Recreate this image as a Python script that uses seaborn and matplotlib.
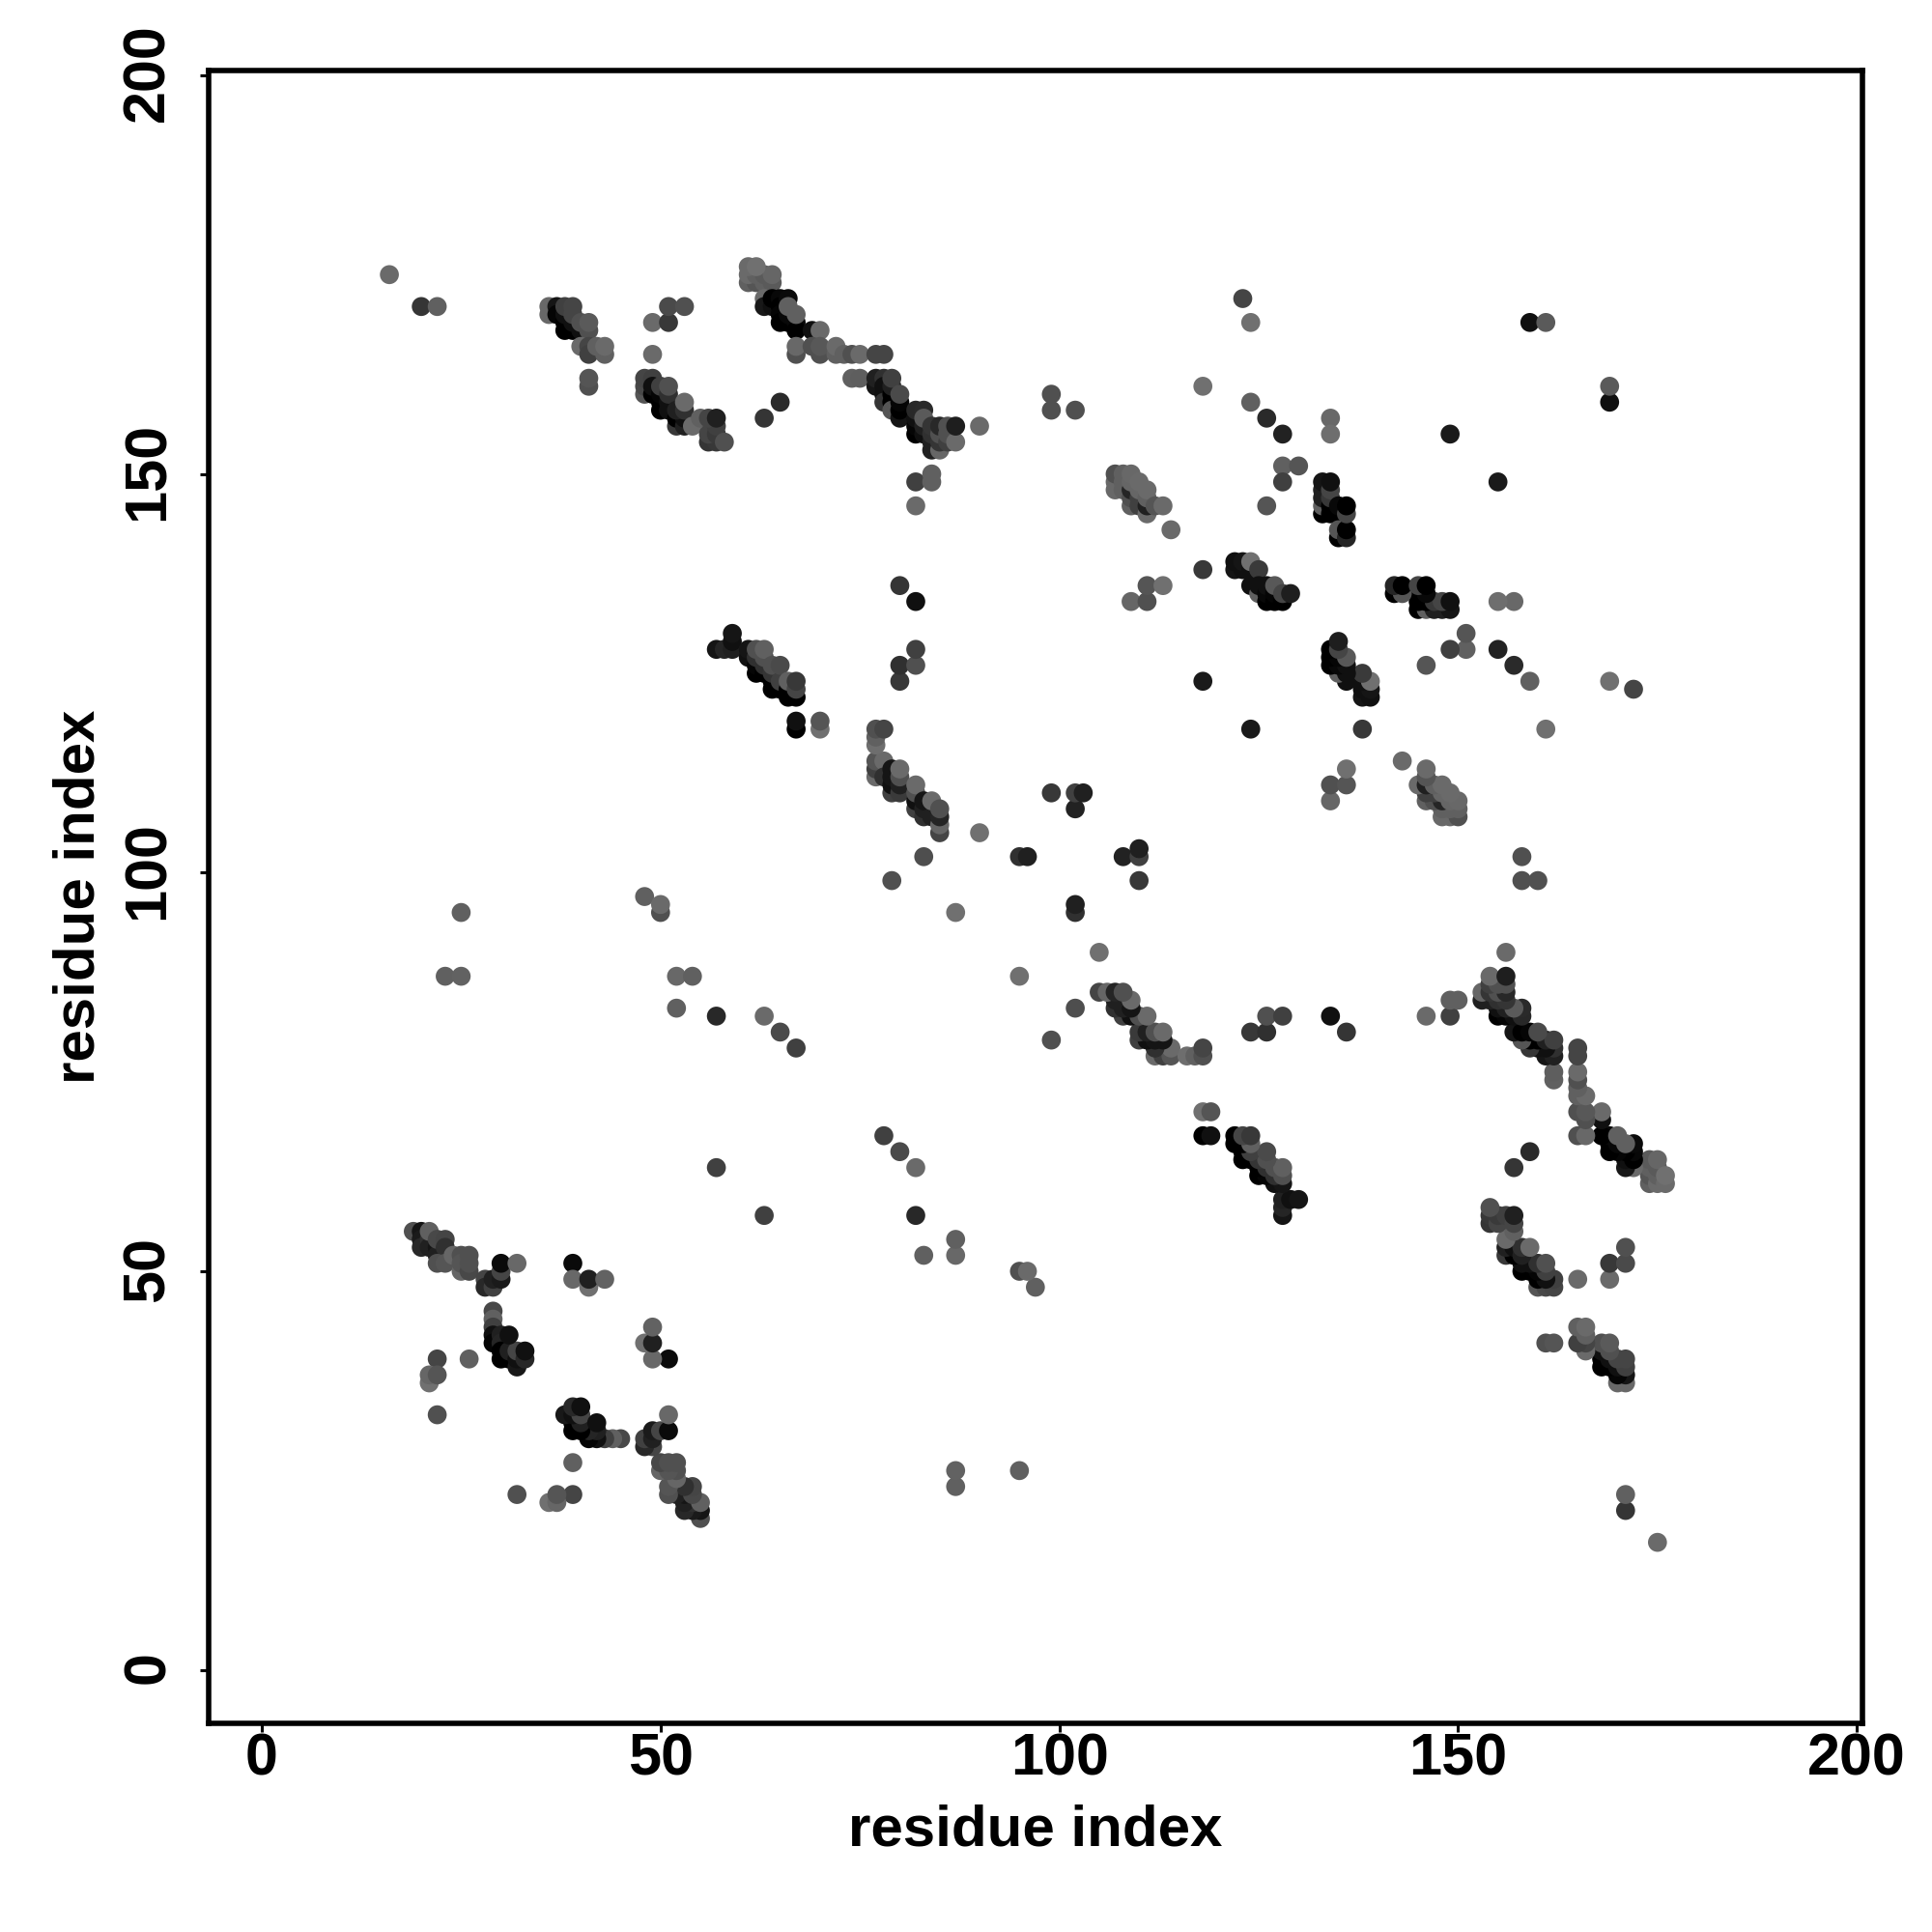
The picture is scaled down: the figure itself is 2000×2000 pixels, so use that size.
import matplotlib.pyplot as plt
import pandas as pd
import seaborn as sns
from matplotlib.transforms import ScaledTranslation

# contacts as (residue i, residue j, grey level), map is symmetric
helix_19_33 = [(19,55,0x50),(20,55,0x15),(20,54,0x1a),(20,53,0x28),(21,54,0x30),(21,53,0x20),(22,53,0x15),(22,52,0x20),
    (21,55,0x60),(22,54,0x48),(23,54,0x45),(23,53,0x30),(22,51,0x50),(23,51,0x55),(24,52,0x66),(25,52,0x50),(25,50,0x66),
    (25,51,0x55),(26,50,0x48),(26,51,0x50),(26,52,0x50),(28,49,0x45),(28,48,0x28),(29,48,0x40),(29,49,0x20),(30,49,0x1a),
    (30,50,0x45),(30,51,0x0a),(32,51,0x68)]
helix_29_33 = [(29,45,0x48),(29,44,0x60),(29,43,0x40),(29,42,0x10),(29,41,0x05),(30,42,0x20),(30,41,0x25),(30,40,0x00),
    (30,39,0x00),(31,39,0x00),(31,40,0x20),(32,38,0x18),(32,39,0x10),(32,40,0x45),(31,42,0x10),(33,39,0x28),(33,40,0x10)]
loose_low = [(22,39,0x45),(26,39,0x60),(21,36,0x70),(21,37,0x66),(22,37,0x55),(22,32,0x50),(39,51,0x0a),(39,49,0x68),
    (41,48,0x70),(41,49,0x20),(43,49,0x62),(57,63,0x40),(23,87,0x60),(25,87,0x62),(25,95,0x60),(48,97,0x60),(50,95,0x50),
    (50,96,0x6a),(52,87,0x68),(54,87,0x60),(52,83,0x60),(57,82,0x28),(63,82,0x6a),(65,80,0x4a),(67,78,0x40)]
cluster_36_43 = [(16,175,0x6a),(20,171,0x35),(22,171,0x60),(36,171,0x68),(36,170,0x68),(37,171,0x15),(37,170,0x05),
    (38,169,0x00),(38,168,0x00),(39,168,0x00),(38,170,0x10),(39,169,0x10),(40,168,0x10),(38,171,0x40),(39,171,0x45),
    (39,170,0x45),(40,169,0x50),(41,168,0x50),(41,169,0x5a),(40,166,0x6a),(41,166,0x45),(41,165,0x40),(42,166,0x60),
    (43,165,0x60),(43,166,0x6a),(41,161,0x50),(41,162,0x55)]
cluster_48_58 = [(49,165,0x6a),(49,169,0x6a),(51,169,0x38),(51,171,0x4a),(53,171,0x50),(48,160,0x55),(48,161,0x48),
    (48,162,0x45),(49,162,0x40),(49,160,0x00),(49,161,0x10),(50,158,0x00),(50,159,0x00),(50,160,0x05),(50,161,0x40),
    (51,158,0x10),(51,159,0x10),(51,160,0x30),(51,161,0x50),(52,156,0x38),(52,157,0x00),(53,156,0x20),(53,157,0x10),
    (52,158,0x20),(53,158,0x30),(53,159,0x6a),(54,156,0x6a),(55,157,0x60),(56,154,0x35),(57,154,0x38),(56,155,0x45),
    (57,155,0x3a),(57,156,0x40),(56,157,0x45),(58,154,0x50),(57,157,0x20),(63,157,0x35),(65,159,0x2a)]
cluster_61_78 = [(61,174,0x60),(62,174,0x55),(63,174,0x60),(64,174,0x5a),(61,175,0x6a),(62,175,0x60),(63,175,0x5a),
    (64,175,0x66),(61,176,0x6a),(62,176,0x70),(63,172,0x6a),(63,171,0x18),(64,171,0x10),(64,172,0x00),(65,172,0x08),
    (65,171,0x00),(65,170,0x05),(65,169,0x00),(66,169,0x00),(66,170,0x08),(66,172,0x0a),(66,171,0x60),(67,169,0x08),
    (67,168,0x00),(67,170,0x60),(69,168,0x10),(70,168,0x6a),(67,165,0x50),(67,166,0x68),(69,166,0x50),(70,165,0x50),
    (70,166,0x58),(72,165,0x60),(72,166,0x6a),(73,165,0x60),(74,165,0x50),(75,165,0x6a),(77,165,0x45),(78,165,0x45),
    (74,162,0x60),(75,162,0x5e)]
cluster_77_87 = [(77,161,0x15),(77,162,0x20),(78,162,0x30),(78,161,0x10),(78,160,0x10),(78,159,0x35),(79,159,0x00),
    (79,160,0x00),(79,161,0x20),(79,162,0x40),(79,158,0x55),(80,157,0x15),(80,158,0x00),(80,159,0x05),(80,160,0x4a),
    (82,155,0x00),(82,156,0x05),(82,157,0x10),(82,158,0x28),(83,155,0x10),(83,156,0x20),(83,158,0x2a),(83,157,0x5a),
    (84,153,0x20),(84,154,0x20),(84,155,0x30),(84,156,0x35),(85,153,0x66),(85,154,0x35),(85,155,0x50),(85,156,0x28),
    (86,154,0x40),(86,155,0x50),(86,156,0x50),(87,154,0x6a),(87,156,0x1e),(90,156,0x6a),(82,146,0x6a),(82,149,0x40),
    (84,149,0x60),(84,150,0x60),(99,158,0x50),(99,160,0x50),(102,158,0x50)]
cluster_57_70 = [(57,128,0x15),(58,128,0x25),(59,128,0x20),(59,129,0x10),(59,130,0x15),(61,127,0x10),(61,128,0x15),
    (62,125,0x00),(62,126,0x05),(62,127,0x30),(62,128,0x50),(63,125,0x00),(63,126,0x30),(63,127,0x50),(63,128,0x60),
    (64,123,0x00),(64,124,0x00),(64,125,0x35),(64,126,0x50),(65,123,0x00),(65,124,0x40),(65,126,0x4a),(66,122,0x00),
    (66,123,0x00),(66,124,0x60),(67,122,0x00),(67,123,0x45),(67,124,0x38),(67,118,0x00),(67,119,0x10),(70,118,0x70),
    (70,119,0x55),(80,124,0x38),(80,126,0x30),(82,126,0x50),(82,128,0x40),(80,136,0x35),(82,134,0x10)]
cluster_77_85 = [(77,112,0x6a),(77,113,0x40),(77,114,0x55),(78,114,0x6a),(78,112,0x30),(77,116,0x6e),(77,117,0x60),
    (77,118,0x50),(78,118,0x45),(79,110,0x40),(79,111,0x10),(79,112,0x15),(79,113,0x15),(80,110,0x3a),(80,111,0x20),
    (80,112,0x50),(80,113,0x6a),(82,108,0x40),(82,109,0x10),(82,110,0x50),(82,111,0x6a),(83,107,0x30),(83,108,0x20),
    (83,109,0x15),(84,107,0x20),(84,109,0x6a),(85,105,0x45),(85,106,0x66),(85,107,0x25),(85,108,0x50),(79,99,0x50),
    (83,102,0x4e),(87,95,0x70),(90,105,0x70),(95,102,0x30),(96,102,0x20),(99,110,0x38),(102,108,0x22),(102,110,0x40),
    (103,110,0x20)]
cluster_107_114 = [(107,148,0x68),(107,149,0x68),(107,150,0x50),(108,148,0x60),(108,149,0x60),(108,150,0x60),
    (109,146,0x60),(109,147,0x50),(109,148,0x25),(109,149,0x66),(109,150,0x68),(110,146,0x40),(110,147,0x40),(110,148,0x66),
    (110,149,0x6a),(111,145,0x6a),(111,146,0x20),(111,147,0x60),(111,148,0x6a),(112,146,0x55),(113,146,0x6a),(114,143,0x6a),
    (109,134,0x66),(111,134,0x50),(111,136,0x55),(113,136,0x70)]
loose_high = [(118,161,0x70),(123,172,0x45),(124,169,0x70),(124,159,0x60),(126,157,0x2a),(128,155,0x22),(134,157,0x68),
    (134,155,0x6e),(149,155,0x1a),(159,169,0x10),(161,169,0x5a),(128,151,0x60),(130,151,0x55),(128,149,0x40),(126,146,0x55),
    (118,138,0x38),(118,124,0x1a)]
cluster_122_129 = [(122,138,0x15),(122,139,0x10),(123,138,0x10),(123,139,0x15),(124,136,0x10),(124,138,0x10),(124,139,0x70),
    (125,138,0x3a),(125,135,0x60),(125,136,0x10),(126,134,0x00),(126,135,0x08),(126,136,0x10),(127,134,0x00),(127,135,0x05),
    (127,136,0x58),(128,134,0x00),(128,135,0x45),(129,135,0x1e)]
cluster_133_136 = [(133,145,0x00),(133,146,0x60),(133,147,0x20),(133,148,0x20),(133,149,0x15),(134,145,0x00),(134,146,0x00),
    (134,147,0x38),(134,148,0x45),(134,149,0x10),(135,145,0x00),(135,146,0x08),(135,142,0x00),(135,143,0x55),(136,142,0x25),
    (136,143,0x00),(136,145,0x45),(136,146,0x00)]

clusters = [helix_19_33, helix_29_33, loose_low, cluster_36_43, cluster_48_58, cluster_61_78, cluster_77_87,
            cluster_57_70, cluster_77_85, cluster_107_114, loose_high, cluster_122_129, cluster_133_136]

tick_values = [0, 50, 100, 150, 200]

upper = pd.DataFrame([c for group in clusters for c in group], columns=['i', 'j', 'grey'])
lower = upper.rename(columns={'i': 'j', 'j': 'i'})
contacts = pd.concat([upper, lower], ignore_index=True)
contacts['shade'] = contacts['grey'] / 255

sns.set_style('white')
plt.rcParams['font.family'] = ['Liberation Sans', 'DejaVu Sans']
plt.rcParams['font.weight'] = 'bold'
plt.rcParams['text.color'] = 'black'
plt.rcParams['axes.labelcolor'] = 'black'
plt.rcParams['xtick.labelcolor'] = 'black'
plt.rcParams['ytick.labelcolor'] = 'black'

fig = plt.figure(figsize=(10, 10), dpi=200)
ax = fig.add_axes([216 / 2000, 1 - 1784 / 2000, (1928 - 216) / 2000, (1784 - 73) / 2000])

sns.scatterplot(data=contacts, x='i', y='j', hue='shade', palette='gray', hue_norm=(0, 1),
                s=50, linewidth=0, legend=False, ax=ax)

ax.set_xlim(-6.66, 200.7)
ax.set_ylim(-6.7, 200.6)
ax.set_xticks(tick_values)
ax.set_yticks(tick_values)
ax.tick_params(axis='x', length=3.1, width=1.1, color='black', labelsize=22, pad=0.3, bottom=True)
ax.tick_params(axis='y', length=3.1, width=1.1, color='black', labelsize=22, pad=8.9, left=True)
nudge = ScaledTranslation(0, 0.9 / 72, fig.dpi_scale_trans)
for label in ax.get_yticklabels():
    label.set_rotation(90)
    label.set_va('center')
    label.set_transform(label.get_transform() + nudge)
ax.set_xlabel('residue index', fontsize=21.6, fontweight='bold', labelpad=6.3)
ax.set_ylabel('residue index', fontsize=21.6, fontweight='bold', labelpad=6)
for spine in ax.spines.values():
    spine.set_linewidth(2)
    spine.set_color('black')

fig.savefig('out.png', dpi=200)
